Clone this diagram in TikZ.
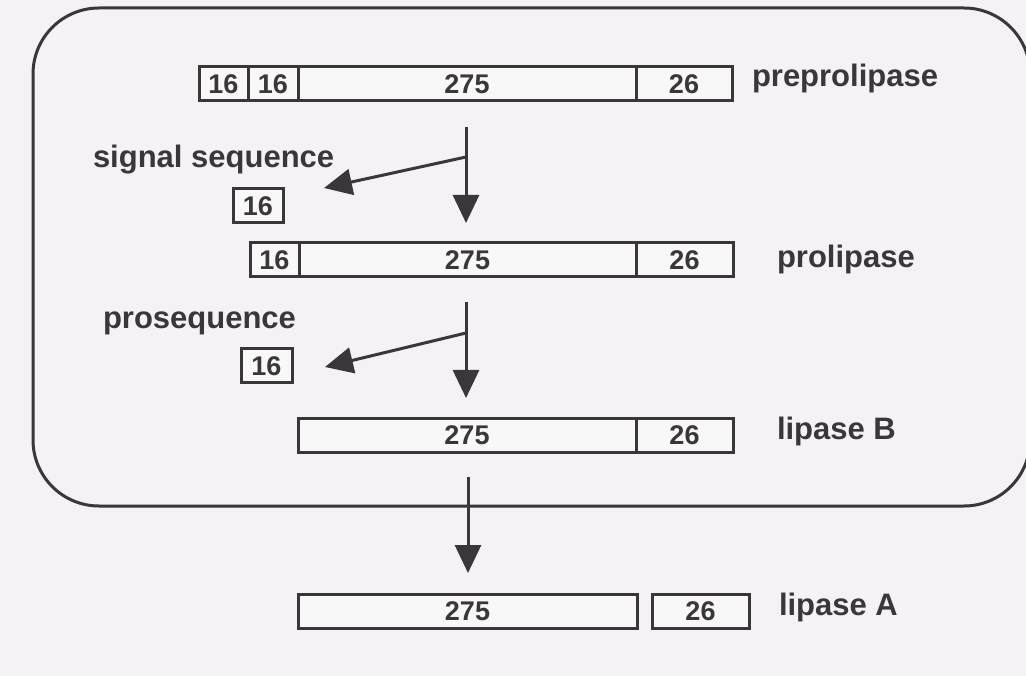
\documentclass[tikz,border=0pt]{standalone}
\usepackage{fontspec}
\setmainfont{Liberation Sans}
\usetikzlibrary{arrows.meta}
\definecolor{ink}{HTML}{3A363A}
\definecolor{paper}{HTML}{F4F2F4}
\definecolor{boxfill}{HTML}{F9F8F9}
\begin{document}
\begin{tikzpicture}[x=1pt,y=-1pt,
  seg/.style={draw=ink, line width=3pt, fill=boxfill, minimum height=34pt,
    inner sep=0pt, outer sep=0pt, anchor=north west,
    font=\fontsize{27}{27}\selectfont\bfseries, text=ink},
  lab/.style={anchor=base west, inner sep=0pt, outer sep=0pt,
    font=\fontsize{31}{31}\selectfont\bfseries, text=ink},
  conn/.style={draw=ink, line width=3pt, -{Triangle[width=26pt,length=28pt]}},
  bline/.style={draw=ink, line width=3pt},
  frame/.style={draw=ink, line width=3pt, rounded corners=66pt}]
\useasboundingbox (0,0) rectangle (1026,676);
\clip (0,0) rectangle (1026,676);
\fill[paper] (0,0) rectangle (1026,676);
% outer membrane frame
\draw[frame] (33,8) rectangle (1030,506);
% preprolipase
\node[seg, minimum width=49pt]  (p1a) at (199,67) {16};
\node[seg, minimum width=50pt]  (p1b) at (248,67) {16};
\node[seg, minimum width=338pt] (p1c) at (298,67) {275};
\node[seg, minimum width=96pt]  (p1d) at (636,67) {26};
\node[lab] (l1) at (752,87) {preprolipase};
% signal sequence
\node[lab] (ls) at (93,168) {signal sequence};
\node[seg, minimum width=50pt] (sig) at (233,189) {16};
% prolipase
\node[seg, minimum width=49pt]  (p2a) at (250,243) {16};
\node[seg, minimum width=337pt] (p2b) at (299,243) {275};
\node[seg, minimum width=97pt]  (p2c) at (636,243) {26};
\node[lab] (l2) at (777,268) {prolipase};
% prosequence
\node[lab] (lp) at (103,329) {prosequence};
\node[seg, minimum width=51pt] (pro) at (241,349) {16};
% lipase B
\node[seg, minimum width=338pt] (p3a) at (298,418) {275};
\node[seg, minimum width=97pt]  (p3b) at (636,418) {26};
\node[lab] (l3) at (777,439) {lipase B};
% lipase A
\node[seg, minimum width=339pt] (p4a) at (298,594) {275};
\node[seg, minimum width=97pt]  (p4b) at (652,594) {26};
\node[lab] (l4) at (779,615) {lipase A};
% arrows
\coordinate (s1) at (466,127);
\coordinate (b1) at (466,157);
\coordinate (e1) at (466,223);
\coordinate (t1) at (324,188);
\draw[bline] (s1) -- (b1);
\draw[conn] (b1) -- (e1);
\draw[conn] (b1) -- (t1);
\coordinate (s2) at (466,302);
\coordinate (b2) at (466,333);
\coordinate (e2) at (466,398);
\coordinate (t2) at (325,367);
\draw[bline] (s2) -- (b2);
\draw[conn] (b2) -- (e2);
\draw[conn] (b2) -- (t2);
\coordinate (s3) at (468,477);
\coordinate (e3) at (468,573);
\draw[conn] (s3) -- (e3);
\end{tikzpicture}
\end{document}
